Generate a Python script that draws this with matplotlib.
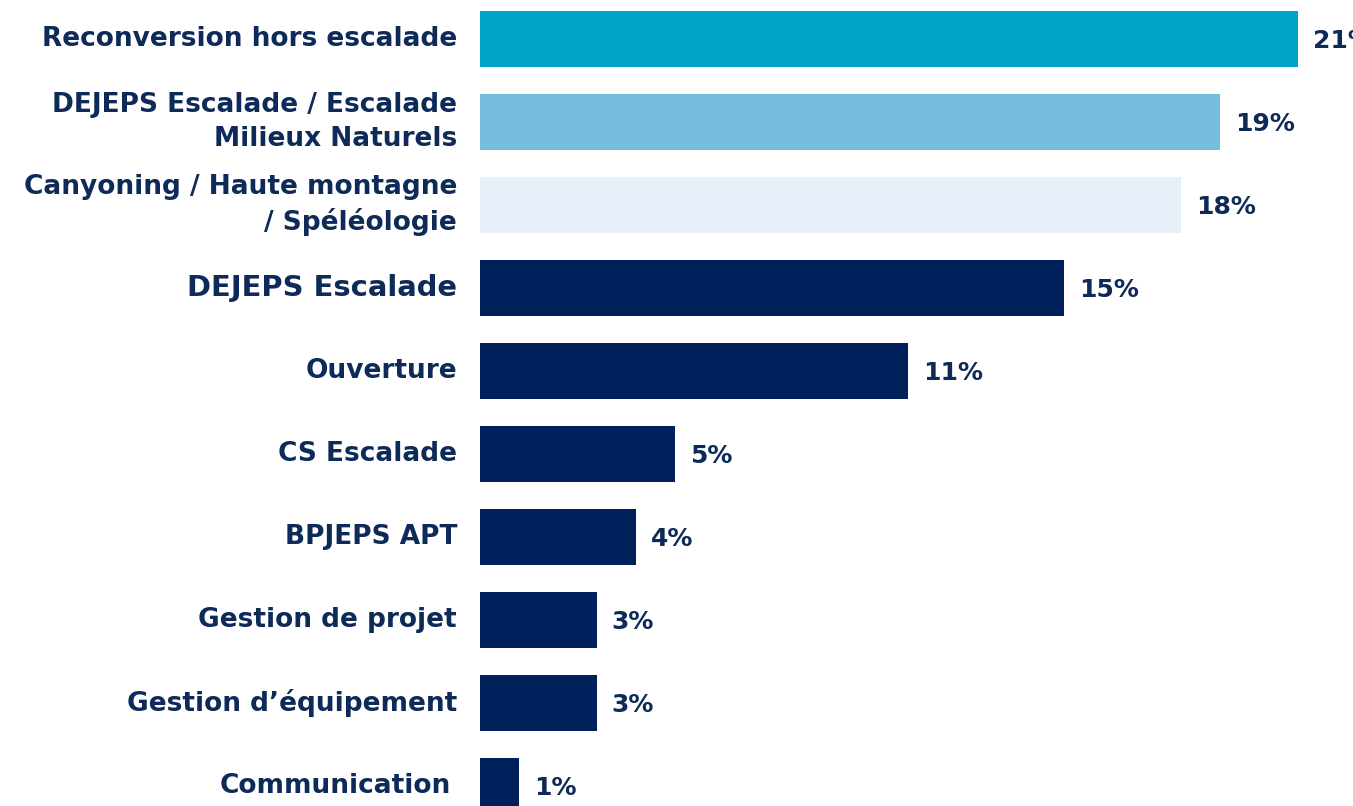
import matplotlib
matplotlib.use("Agg")
import matplotlib.pyplot as plt

categories = [
    "Reconversion hors escalade",
    "DEJEPS Escalade / Escalade\nMilieux Naturels",
    "Canyoning / Haute montagne\n/ Spéléologie",
    "DEJEPS Escalade",
    "Ouverture",
    "CS Escalade",
    "BPJEPS APT",
    "Gestion de projet",
    "Gestion d\u2019équipement",
    "Communication",
]
values = [21, 19, 18, 15, 11, 5, 4, 3, 3, 1]
value_labels = ["21%", "19%", "18%", "15%", "11%", "5%", "4%", "3%", "3%", "1%"]
bar_colors = ["#00A5C6", "#74BDDD", "#E7EFF8"] + ["#00205C"] * 7
text_color = "#0D2A58"

W, H = 1353, 806
fig = plt.figure(figsize=(W / 100, H / 100), dpi=100)
ax = fig.add_axes([0, 0, 1, 1])

px_per_unit = (1298 - 480) / 21.0
x0_px = 480
ax.set_xlim(-x0_px / px_per_unit, (W - x0_px) / px_per_unit)
pitch = 83.0
c0 = 39.0
ax.set_ylim((H - c0) / pitch, -c0 / pitch)

ypos = list(range(len(categories)))
ax.barh(ypos, values, height=56 / pitch, color=bar_colors, edgecolor="none")

fs = 19.0
vfs = 18.0
fam = ["DejaVu Sans"]
for i, (cat, v, lab) in enumerate(zip(categories, values, value_labels)):
    size = fs * 1.1 if cat == "DEJEPS Escalade" else fs
    xr = -23 / px_per_unit
    if cat == "Communication":
        xr = -29 / px_per_unit
    ax.text(xr, i, cat, ha="right", va="center", fontsize=size, fontweight="bold",
            color=text_color, family=fam, linespacing=1.4)
    ax.text(v + 15 / px_per_unit, i + 0.02, lab, ha="left", va="center", fontsize=vfs,
            fontweight="bold", color=text_color, family=fam)

ax.axis("off")
fig.savefig("out.png", dpi=100, facecolor="white")
